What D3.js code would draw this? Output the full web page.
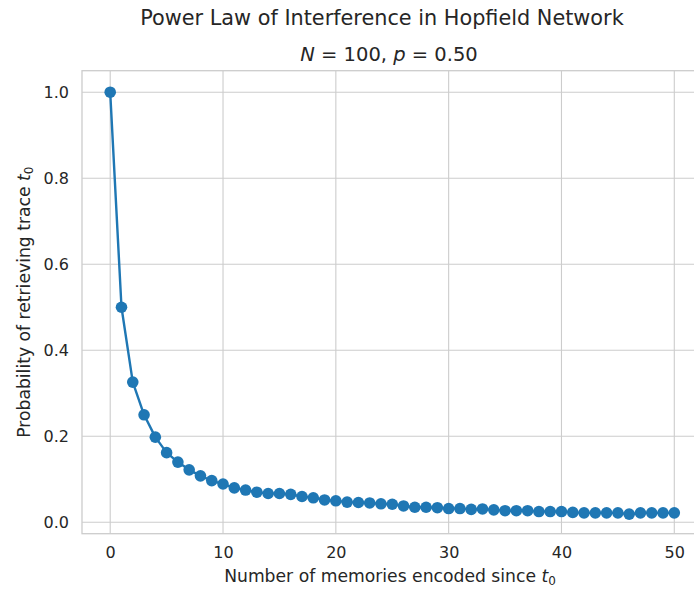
<!DOCTYPE html>
<html>
<head>
<meta charset="utf-8">
<script src="https://cdn.jsdelivr.net/npm/d3@7"></script>
<style>
  html, body { margin: 0; padding: 0; background: #ffffff; }
  svg { display: block; }
  text { font-family: "DejaVu Sans", sans-serif; fill: #262626; }
</style>
</head>
<body>
<div id="chart"></div>
<script>
// Number of memories encoded after the reference trace t0
const memoriesSince = d3.range(0, 51);

// Estimated probability of retrieving trace t0 after each number of later memories
const retrievalProb = [
  1.000, 0.500, 0.326, 0.250, 0.198, 0.162, 0.140, 0.122, 0.108, 0.097,
  0.089, 0.080, 0.075, 0.070, 0.067, 0.067, 0.065, 0.060, 0.057, 0.052,
  0.050, 0.047, 0.046, 0.045, 0.043, 0.042, 0.038, 0.035, 0.035, 0.034,
  0.032, 0.032, 0.030, 0.031, 0.029, 0.027, 0.027, 0.027, 0.025, 0.025,
  0.025, 0.023, 0.022, 0.022, 0.022, 0.022, 0.019, 0.022, 0.022, 0.022,
  0.022
];

const xTicks = [0, 10, 20, 30, 40, 50];
const yTicks = [0.0, 0.2, 0.4, 0.6, 0.8, 1.0];

const titleText = "Power Law of Interference in Hopfield Network";

const W = 694, H = 589;
const plot = { left: 82, right: 702.5, top: 70.7, bottom: 533.7 };

const svg = d3.select("#chart").append("svg")
  .attr("width", W).attr("height", H);

svg.append("rect").attr("width", W).attr("height", H).attr("fill", "#ffffff");

const x = d3.scaleLinear().domain([-2.5, 52.5]).range([plot.left, plot.right]);
const y = d3.scaleLinear().domain([-0.0265, 1.05]).range([plot.bottom, plot.top]);

const gridColor = "#cccccc";

// Grid lines
const grid = svg.append("g");
grid.selectAll("line.gx").data(xTicks).join("line")
  .attr("x1", d => x(d)).attr("x2", d => x(d))
  .attr("y1", plot.top).attr("y2", plot.bottom)
  .attr("stroke", gridColor).attr("stroke-width", 1.1);
grid.selectAll("line.gy").data(yTicks).join("line")
  .attr("y1", d => y(d)).attr("y2", d => y(d))
  .attr("x1", plot.left).attr("x2", plot.right)
  .attr("stroke", gridColor).attr("stroke-width", 1.1);

// Frame
svg.append("rect")
  .attr("x", plot.left).attr("y", plot.top)
  .attr("width", plot.right - plot.left).attr("height", plot.bottom - plot.top)
  .attr("fill", "none").attr("stroke", gridColor).attr("stroke-width", 1.3);

// Axes (labels only, no tick marks)
const xAxis = d3.axisBottom(x).tickValues(xTicks).tickSize(0).tickPadding(13)
  .tickFormat(d3.format("d"));
const gx = svg.append("g").attr("transform", `translate(0,${plot.bottom})`).call(xAxis);
gx.select(".domain").remove();
gx.selectAll("text").attr("font-size", "16px").attr("fill", "#262626")
  .attr("font-family", "DejaVu Sans, sans-serif");

const yAxis = d3.axisLeft(y).tickValues(yTicks).tickSize(0).tickPadding(13)
  .tickFormat(d3.format(".1f"));
const gy = svg.append("g").attr("transform", `translate(${plot.left},0)`).call(yAxis);
gy.select(".domain").remove();
gy.selectAll("text").attr("font-size", "16px").attr("fill", "#262626")
  .attr("font-family", "DejaVu Sans, sans-serif");

// Series
const color = "#1f77b4";
const pts = memoriesSince.map((m, i) => [m, retrievalProb[i]]);
svg.append("path")
  .datum(pts)
  .attr("fill", "none").attr("stroke", color).attr("stroke-width", 2.4)
  .attr("stroke-linejoin", "round")
  .attr("d", d3.line().x(d => x(d[0])).y(d => y(d[1])));
svg.append("g").selectAll("circle").data(pts).join("circle")
  .attr("cx", d => x(d[0])).attr("cy", d => y(d[1]))
  .attr("r", 5.8).attr("fill", color);

// Titles
svg.append("text").attr("x", 382).attr("y", 25)
  .attr("text-anchor", "middle").attr("font-size", "20.8px")
  .text(titleText);

const sub = svg.append("text").attr("x", 389).attr("y", 61)
  .attr("text-anchor", "middle").attr("font-size", "19.5px");
sub.append("tspan").attr("font-style", "italic").text("N");
sub.append("tspan").text(" = 100, ");
sub.append("tspan").attr("font-style", "italic").text("p");
sub.append("tspan").text(" = 0.50");

// Axis labels
const xl = svg.append("text").attr("x", 390).attr("y", 582)
  .attr("text-anchor", "middle").attr("font-size", "17.2px");
xl.append("tspan").text("Number of memories encoded since ");
xl.append("tspan").attr("font-style", "italic").text("t");
xl.append("tspan").attr("font-size", "12px").attr("dy", 3).text("0");

const yl = svg.append("text")
  .attr("transform", `translate(30,${(plot.top + plot.bottom) / 2}) rotate(-90)`)
  .attr("text-anchor", "middle").attr("font-size", "17.2px");
yl.append("tspan").text("Probability of retrieving trace ");
yl.append("tspan").attr("font-style", "italic").text("t");
yl.append("tspan").attr("font-size", "12px").attr("dy", 3).text("0");
</script>
</body>
</html>
